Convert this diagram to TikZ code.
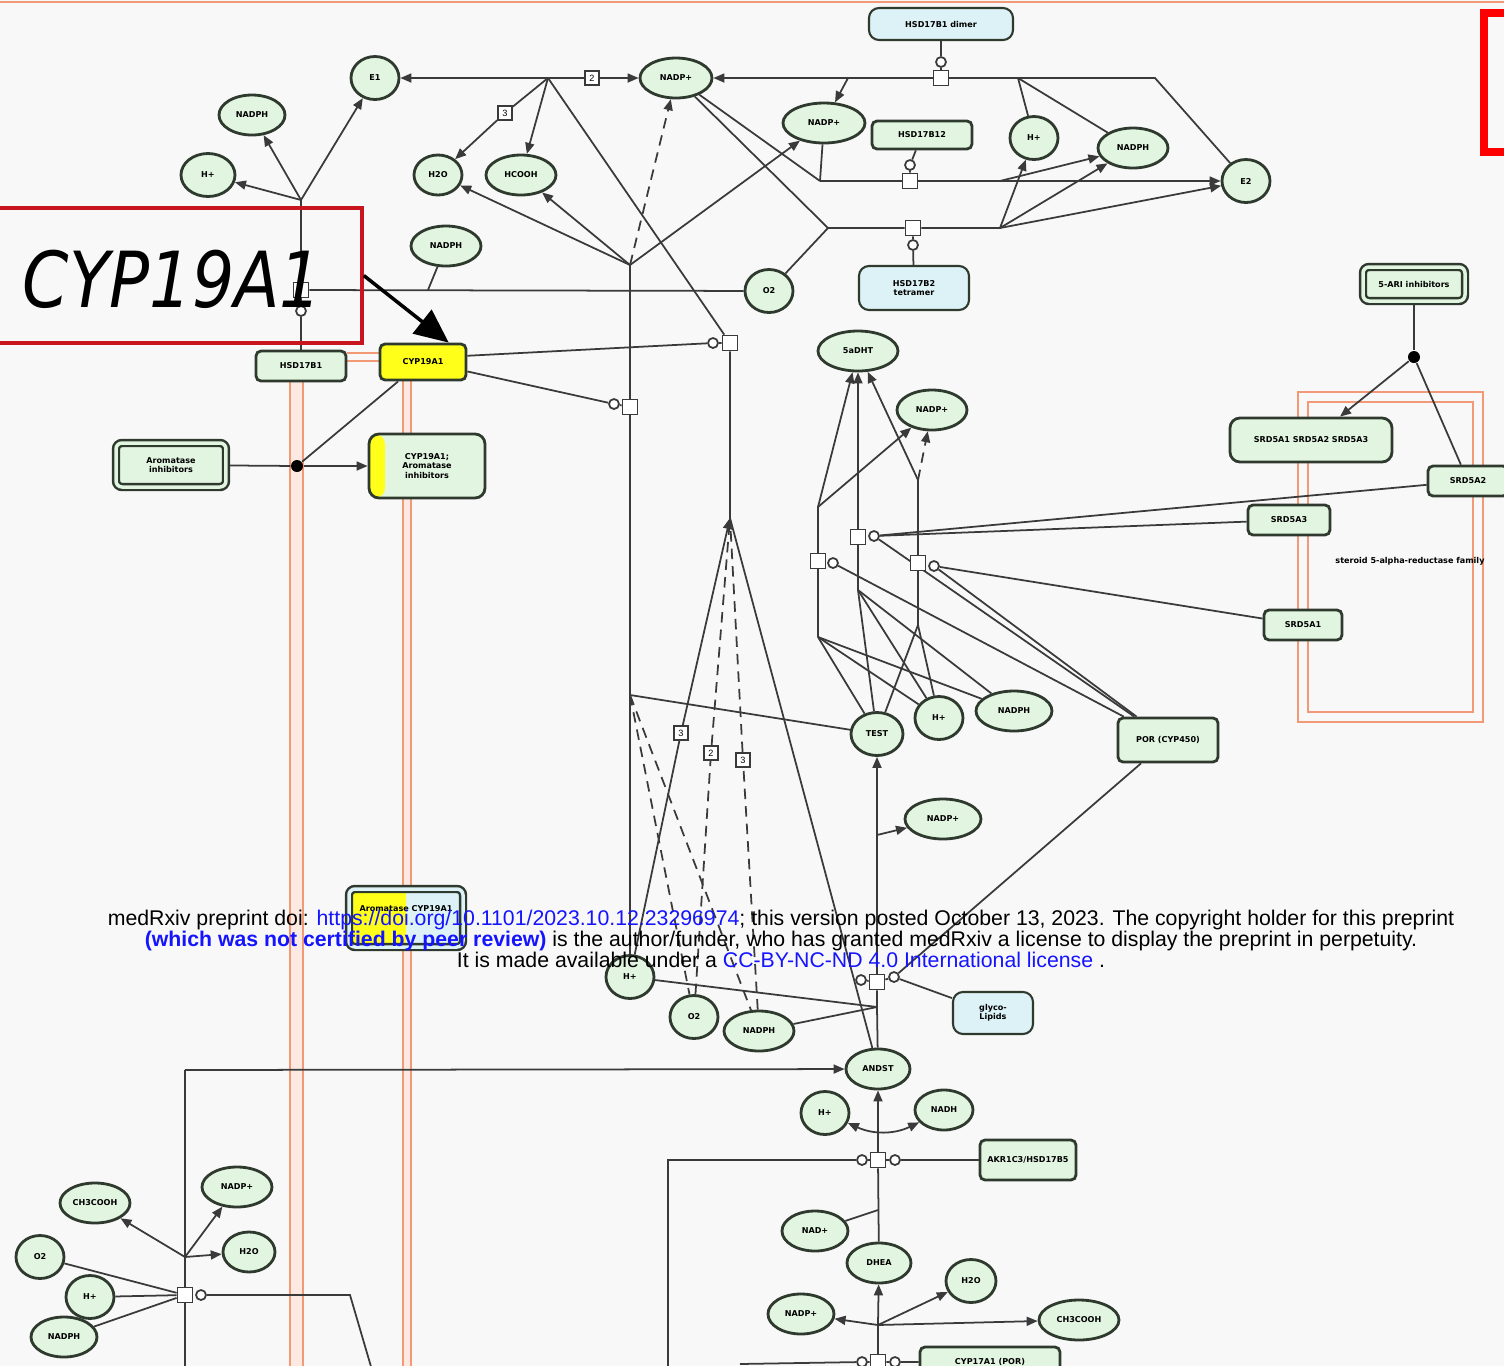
\documentclass[tikz,border=0pt]{standalone}
\usepackage{fontspec}
\setmainfont{Liberation Sans}
\newfontfamily\labelfont{DejaVu Sans}
\usetikzlibrary{shapes.geometric,arrows.meta}
\pgfdeclarelayer{back}
\pgfdeclarelayer{edges}
\pgfsetlayers{back,edges,main}
\definecolor{bgcol}{HTML}{F9F8F8}
\definecolor{metfill}{HTML}{E2F5E0}
\definecolor{nodeline}{HTML}{2F3A2F}
\definecolor{linecol}{HTML}{3A3A3A}
\definecolor{cplxfill}{HTML}{DDF2F6}
\definecolor{groupcol}{HTML}{F29A78}
\definecolor{bandcol}{HTML}{FBE9E2}
\definecolor{hilite}{HTML}{C8141E}
\definecolor{cypyellow}{HTML}{FFFF1A}
\definecolor{linkblue}{HTML}{1414FF}
\newcommand{\genefont}{\labelfont\bfseries\fontsize{2.3}{2.7}\selectfont}
\tikzset{
  met/.style={ellipse, draw=nodeline, line width=0.8pt, fill=metfill, minimum width=7mm, minimum height=4mm, inner sep=0pt, font=\genefont},
  metc/.style={met, minimum width=4.8mm, minimum height=4.3mm},
  gene/.style={rectangle, rounded corners=0.5mm, draw=nodeline, line width=0.8pt, fill=metfill, inner sep=0pt, font=\genefont, align=center},
  cplx/.style={gene, fill=cplxfill, rounded corners=1mm, line width=0.6pt},
  drugbox/.style={gene, double=metfill, double distance=0.35mm, line width=0.7pt, rounded corners=0.6mm},
  strip/.style={path picture={\fill[cypyellow] (path picture bounding box.south west) rectangle ([xshift=1.6mm]path picture bounding box.north west);}},
  halfstrip/.style={path picture={\fill[cypyellow] (path picture bounding box.south west) rectangle (path picture bounding box.north);}},
  rxn/.style={rectangle, draw=linecol, fill=white, line width=0.5pt, minimum size=1.5mm, inner sep=0pt},
  modc/.style={circle, draw=linecol, fill=white, line width=0.5pt, minimum size=1mm, inner sep=0pt},
  stoich/.style={rectangle, draw=linecol, fill=white, line width=0.5pt, minimum size=1.4mm, inner sep=0pt, font=\fontsize{2.6}{3}\selectfont},
  junc/.style={circle, fill=black, minimum size=1.2mm, inner sep=0pt},
  conn/.style={draw=linecol, line width=0.5pt},
  arr/.style={conn, -{Triangle[length=1.1mm,width=0.9mm]}},
  twoarr/.style={conn, {Triangle[length=1.1mm,width=0.9mm]}-{Triangle[length=1.1mm,width=0.9mm]}},
  bigarr/.style={draw=black, line width=1pt, -{Triangle[length=3.4mm,width=3mm]}},
  band/.style={draw=groupcol, line width=0.6pt},
  notice/.style={font=\fontsize{6.05}{7}\selectfont, inner sep=0pt, anchor=base},
}
\begin{document}
\begin{tikzpicture}[x=0.1mm,y=-0.1mm]
\useasboundingbox (0,0) rectangle (1504,1366);
\begin{pgfonlayer}{back}
\fill[bgcol] (0,0) rectangle (1504,1366);
\draw[groupcol, line width=0.6pt] (0,2) -- (1504,2);
\draw[red, line width=2.3pt] (1520,13) -- (1484,13) -- (1484,152) -- (1520,152);
\fill[bandcol] (290,381) rectangle (303,1366);
\fill[bandcol] (403,380) rectangle (411,1366);
\draw[band] (290,381) -- (290,1366) (303,381) -- (303,1366);
\draw[band] (403,380) -- (403,1366) (411,380) -- (411,1366);
\draw[band] (347,353) -- (380,353) (347,361) -- (380,361);
\draw[band, line width=0.7pt] (1298,392) rectangle (1483,722);
\draw[band, line width=0.7pt] (1308,402) rectangle (1473,712);
\end{pgfonlayer}

\path
  node[met, minimum width=6.6mm] (nadphA) at (252,115) {NADPH}
  node[metc, minimum width=5.4mm] (hA) at (208,175) {H+}
  node[metc] (eoneA) at (375,78) {E1}
  node[met, minimum width=4.8mm] (waterA) at (438,175) {H2O}
  node[met] (formate) at (521,175) {HCOOH}
  node[met, minimum width=7.2mm] (nadpA) at (676,78) {NADP+}
  node[met, minimum width=8.2mm] (nadpB) at (824,123) {NADP+}
  node[metc] (hB) at (1034,138) {H+}
  node[met] (nadphB) at (1133,148) {NADPH}
  node[metc] (etwoA) at (1246,181) {E2}
  node[met] (nadphC) at (446,246) {NADPH}
  node[metc] (oxyA) at (769,291) {O2};

\path
  node[gene, minimum width=10mm, minimum height=2.8mm] (hsdB) at (922,135) {HSD17B12}
  node[cplx, minimum width=14.4mm, minimum height=3.2mm] (dimer) at (941,24) {HSD17B1 dimer}
  node[cplx, minimum width=11mm, minimum height=4.4mm] (tetramer) at (914,288) {HSD17B2\\tetramer}
  node[gene, fill=cypyellow, minimum width=8.6mm, minimum height=3.6mm] (cyp) at (423,362) {CYP19A1}
  node[gene, minimum width=9mm, minimum height=3mm] (hsdA) at (301,366) {HSD17B1}
  node[drugbox, minimum width=11mm, minimum height=4.4mm] (inhib) at (171,465) {Aromatase\\inhibitors}
  node[gene, strip, rounded corners=1mm, minimum width=11.6mm, minimum height=6.4mm] (cypinh) at (427,466) {CYP19A1;\\Aromatase\\inhibitors}
  node[junc] (dotA) at (297,466) {};

\path
  node[met, minimum width=8mm] (dht) at (858,351) {5aDHT}
  node[met] (nadpC) at (932,410) {NADP+}
  node[drugbox, minimum width=10.2mm, minimum height=3.4mm] (ari) at (1414,284) {5-ARI inhibitors}
  node[junc] (dotB) at (1414,357) {}
  node[gene, rounded corners=1mm, minimum width=16.2mm, minimum height=4.4mm] (srdall) at (1311,440) {SRD5A1 SRD5A2 SRD5A3}
  node[gene, minimum width=8mm, minimum height=3mm] (srdB) at (1468,481) {SRD5A2}
  node[gene, minimum width=8.2mm, minimum height=3mm] (srdC) at (1289,520) {SRD5A3}
  node[gene, minimum width=7.8mm, minimum height=3mm] (srdA) at (1303,625) {SRD5A1}
  node[font=\genefont] (grouplbl) at (1410,561) {steroid 5-alpha-reductase family}
  node[gene, minimum width=10mm, minimum height=4.4mm] (por) at (1168,740) {POR (CYP450)}
  node[metc, minimum width=5.2mm] (test) at (877,734) {TEST}
  node[metc] (hC) at (939,718) {H+}
  node[met, minimum width=7.6mm] (nadphD) at (1014,711) {NADPH}
  node[met, minimum width=7.6mm] (nadpD) at (943,819) {NADP+};

\path
  node[drugbox, halfstrip, double=cplxfill, fill=cplxfill, minimum width=11.4mm, minimum height=5.8mm] (cyptwo) at (406,918) {\raisebox{2mm}{Aromatase CYP19A1}}
  node[metc] (hD) at (630,977) {H+}
  node[metc] (oxyB) at (694,1017) {O2}
  node[met] (nadphE) at (759,1031) {NADPH}
  node[cplx, minimum width=8mm, minimum height=4.2mm] (glyco) at (993,1013) {glyco-\\Lipids}
  node[met, minimum width=6.4mm] (andro) at (878,1069) {ANDST}
  node[metc] (hE) at (825,1113) {H+}
  node[met, minimum width=5.8mm] (nadhA) at (944,1110) {NADH}
  node[gene, minimum width=9.6mm, minimum height=4mm] (akr) at (1028,1160) {AKR1C3/HSD17B5}
  node[met, minimum width=6.6mm] (nadB) at (815,1231) {NAD+}
  node[met, minimum width=6.4mm] (dhea) at (879,1263) {DHEA}
  node[metc, minimum width=5mm] (waterB) at (971,1281) {H2O}
  node[met, minimum width=6.6mm] (nadpE) at (801,1314) {NADP+}
  node[met, minimum width=8mm] (acetic) at (1079,1320) {CH3COOH}
  node[gene, minimum width=14mm, minimum height=3mm] (cypseven) at (990,1362) {CYP17A1 (POR)};

\path
  node[met] (acetB) at (95,1203) {CH3COOH}
  node[met] (nadpF) at (237,1187) {NADP+}
  node[metc] (oxyC) at (40,1257) {O2}
  node[met, minimum width=5.2mm] (waterC) at (249,1252) {H2O}
  node[metc] (hF) at (90,1297) {H+}
  node[met, minimum width=6.6mm] (nadphF) at (64,1337) {NADPH};

\path
  node[rxn] (rA) at (301,290) {} node[modc] (mA) at (301,311) {}
  node[rxn] (rB) at (730,343) {} node[modc] (mB) at (713,343) {}
  node[rxn] (rC) at (630,407) {} node[modc] (mC) at (614,404) {}
  node[rxn] (rD) at (941,78) {} node[modc] (mD) at (941,62) {}
  node[rxn] (rE) at (910,181) {} node[modc] (mE) at (910,165) {}
  node[rxn] (rF) at (913,228) {} node[modc] (mF) at (913,245) {}
  node[rxn] (rG) at (858,537) {} node[modc] (mG) at (874,536) {}
  node[rxn] (rH) at (818,561) {} node[modc] (mH) at (833,563) {}
  node[rxn] (rI) at (918,563) {} node[modc] (mI) at (934,566) {}
  node[rxn] (rJ) at (877,982) {} node[modc] (mJ) at (861,980) {} node[modc] (mJ2) at (894,977) {}
  node[rxn] (rK) at (878,1160) {} node[modc] (mK) at (862,1160) {} node[modc] (mK2) at (895,1160) {}
  node[rxn] (rL) at (878,1362) {} node[modc] (mL) at (862,1362) {} node[modc] (mL2) at (895,1362) {}
  node[rxn] (rM) at (185,1295) {} node[modc] (mM) at (201,1295) {};

\path
  node[stoich] (sA) at (592,78) {2}
  node[stoich] (sB) at (505,113) {3}
  node[stoich] (sC) at (681,733) {3}
  node[stoich] (sD) at (711,753) {2}
  node[stoich] (sE) at (743,760) {3};

\coordinate (jA) at (301,200);
\coordinate (jB) at (548,78);
\coordinate (jC) at (630,265);
\coordinate (jD) at (730,518);
\coordinate (jE) at (630,695);
\coordinate (jF) at (1155,78);
\coordinate (jG) at (848,78);
\coordinate (jH) at (1018,78);
\coordinate (jI) at (820,181);
\coordinate (jJ) at (1000,181);
\coordinate (jK) at (828,228);
\coordinate (jL) at (1000,228);
\coordinate (jM) at (818,507);
\coordinate (jN) at (818,637);
\coordinate (jO) at (858,590);
\coordinate (jP) at (918,480);
\coordinate (jQ) at (918,625);
\coordinate (jR) at (877,835);
\coordinate (jS) at (185,1070);
\coordinate (jSb) at (185,1370);
\coordinate (jT) at (878,1325);
\coordinate (jU) at (185,1257);
\coordinate (jV) at (668,1160);
\coordinate (jVb) at (668,1370);
\coordinate (jW) at (350,1295);
\coordinate (jWb) at (372,1370);
\coordinate (jY) at (428,290);
\coordinate (jZ) at (877,1007);
\coordinate (jAA) at (878,1210);
\coordinate (jLL) at (740,1364);

\begin{pgfonlayer}{edges}
\draw[conn] (hsdA) -- (mA) -- (rA) -- (jA);
\draw[arr] (jA) -- (hA);
\draw[arr] (jA) -- (nadphA);
\draw[arr] (jA) -- (eoneA);
\draw[conn] (rA) -- (oxyA);
\draw[conn] (nadphC) -- (jY);

\draw[arr] (jB) -- (eoneA);
\draw[arr] (jB) -- (sA) -- (nadpA);
\draw[arr] (jB) -- (sB) -- (waterA);
\draw[arr] (jB) -- (formate);
\draw[conn] (jB) -- (rB);
\draw[arr] (jC) -- (formate);
\draw[arr] (jC) -- (waterA);
\draw[arr, densely dashed] (jC) -- (nadpA);
\draw[arr] (jC) -- (nadpB);
\draw[conn] (jC) -- (rC) -- (jE) -- (hD);
\draw[conn] (cyp.8) -- (mB) -- (rB) -- (jD);
\draw[conn] (cyp.-12) -- (mC) -- (rC);

\draw[arr] (etwoA) -- (jF) -- (nadpA);
\draw[conn] (rD) -- (mD) -- (dimer);
\draw[arr] (jG) -- (nadpB);
\draw[conn] (jH) -- (hB);
\draw[conn] (jH) -- (nadphB);
\draw[conn] (nadpA) -- (jI);
\draw[conn] (nadpB) -- (jI);
\draw[arr] (jI) -- (rE) -- (jJ) -- (etwoA);
\draw[conn] (rE) -- (mE) -- (hsdB);
\draw[conn] (nadpA) -- (jK);
\draw[conn] (oxyA) -- (jK);
\draw[arr] (jK) -- (rF) -- (jL) -- (etwoA);
\draw[conn] (rF) -- (mF) -- (tetramer);
\draw[arr] (jL) -- (hB);
\draw[arr] (jL) -- (nadphB);
\draw[arr] (jJ) -- (nadphB);

\draw[conn] (inhib) -- (dotA);
\draw[arr] (dotA) -- (cypinh);
\draw[conn] (dotA) -- (cyp.-142);

\draw[conn] (ari) -- (dotB);
\draw[arr] (dotB) -- (srdall);
\draw[conn] (dotB) -- (srdB);
\draw[conn] (srdB) -- (mG);
\draw[conn] (srdC) -- (mG);
\draw[conn] (srdA) -- (mI);
\draw[conn] (mH) -- (por);
\draw[conn] (mG) -- (por);
\draw[conn] (mI) -- (por);
\draw[conn] (jM) -- (rH) -- (jN);
\draw[arr] (jM) -- (dht);
\draw[arr] (jM) -- (nadpC);
\draw[conn] (jN) -- (test);
\draw[conn] (jN) -- (hC);
\draw[conn] (jN) -- (nadphD);
\draw[arr] (jO) -- (rG) -- (dht);
\draw[conn] (jO) -- (test);
\draw[conn] (jO) -- (hC);
\draw[conn] (jO) -- (nadphD);
\draw[conn] (jQ) -- (rI) -- (jP);
\draw[arr] (jP) -- (dht);
\draw[arr, densely dashed] (jP) -- (nadpC);
\draw[conn] (jQ) -- (test);
\draw[conn] (jQ) -- (hC);
\draw[conn] (jE) -- (test);

\draw[arr] (hD) -- (sC) -- (jD);
\draw[conn, densely dashed] (oxyB) -- (sD) -- (jD);
\draw[conn, densely dashed] (nadphE) -- (sE) -- (jD);
\draw[conn] (andro) -- (jD);
\draw[conn, densely dashed] (jE) -- (oxyB);
\draw[conn, densely dashed] (jE) -- (nadphE);

\draw[arr] (rJ) -- (jR) -- (test);
\draw[arr] (jR) -- (nadpD);
\draw[conn] (andro) -- (jZ) -- (rJ);
\draw[conn] (hD) -- (jZ);
\draw[conn] (nadphE) -- (jZ);
\draw[conn] (mJ) -- (rJ) -- (mJ2);
\draw[conn] (por) -- (mJ2);
\draw[conn] (glyco) -- (mJ2);

\draw[conn] (jSb) -- (rM) -- (jU) -- (jS);
\draw[arr] (jS) -- (andro);
\draw[arr] (rK) -- (andro);
\draw[twoarr] (hE) to[bend right=25] (nadhA);
\draw[conn] (jVb) -- (jV) -- (mK) -- (rK) -- (mK2) -- (akr);
\draw[conn] (rK) -- (dhea);
\draw[conn] (nadB) -- (jAA);
\draw[arr] (jT) -- (dhea);
\draw[arr] (jT) -- (nadpE);
\draw[arr] (jT) -- (waterB);
\draw[arr] (jT) -- (acetic);
\draw[conn] (jT) -- (rL);
\draw[conn] (jLL) -- (mL) -- (rL) -- (mL2) -- (cypseven);

\draw[conn] (oxyC) -- (rM);
\draw[conn] (hF) -- (rM);
\draw[conn] (nadphF) -- (rM);
\draw[arr] (jU) -- (acetB);
\draw[arr] (jU) -- (nadpF);
\draw[arr] (jU) -- (waterC);
\draw[conn] (mM) -- (jW) -- (jWb);
\end{pgfonlayer}

\node[draw=hilite, line width=1pt, minimum width=37.2mm, minimum height=13.5mm, inner sep=0pt] (cypbox) at (176,275.5) {};
\node[font=\labelfont\itshape\fontsize{22}{24}\selectfont, inner sep=0pt, anchor=base west] (cyplabel) at (22,307) {\scalebox{0.86}[1]{CYP19A1}};
\draw[bigarr] (cypbox.east) -- (cyp.37);

\node[notice] (noticeA) at (781,925) {medRxiv preprint doi: \textcolor{linkblue}{https://doi.org/10.1101/2023.10.12.23296974}; this version posted October 13, 2023. The copyright holder for this preprint};
\node[notice] (noticeB) at (781,946) {\textcolor{linkblue}{\bfseries (which was not certified by peer review)} is the author/funder, who has granted medRxiv a license to display the preprint in perpetuity.};
\node[notice] (noticeC) at (781,967) {It is made available under a \textcolor{linkblue}{CC-BY-NC-ND 4.0 International license} .};
\end{tikzpicture}
\end{document}
